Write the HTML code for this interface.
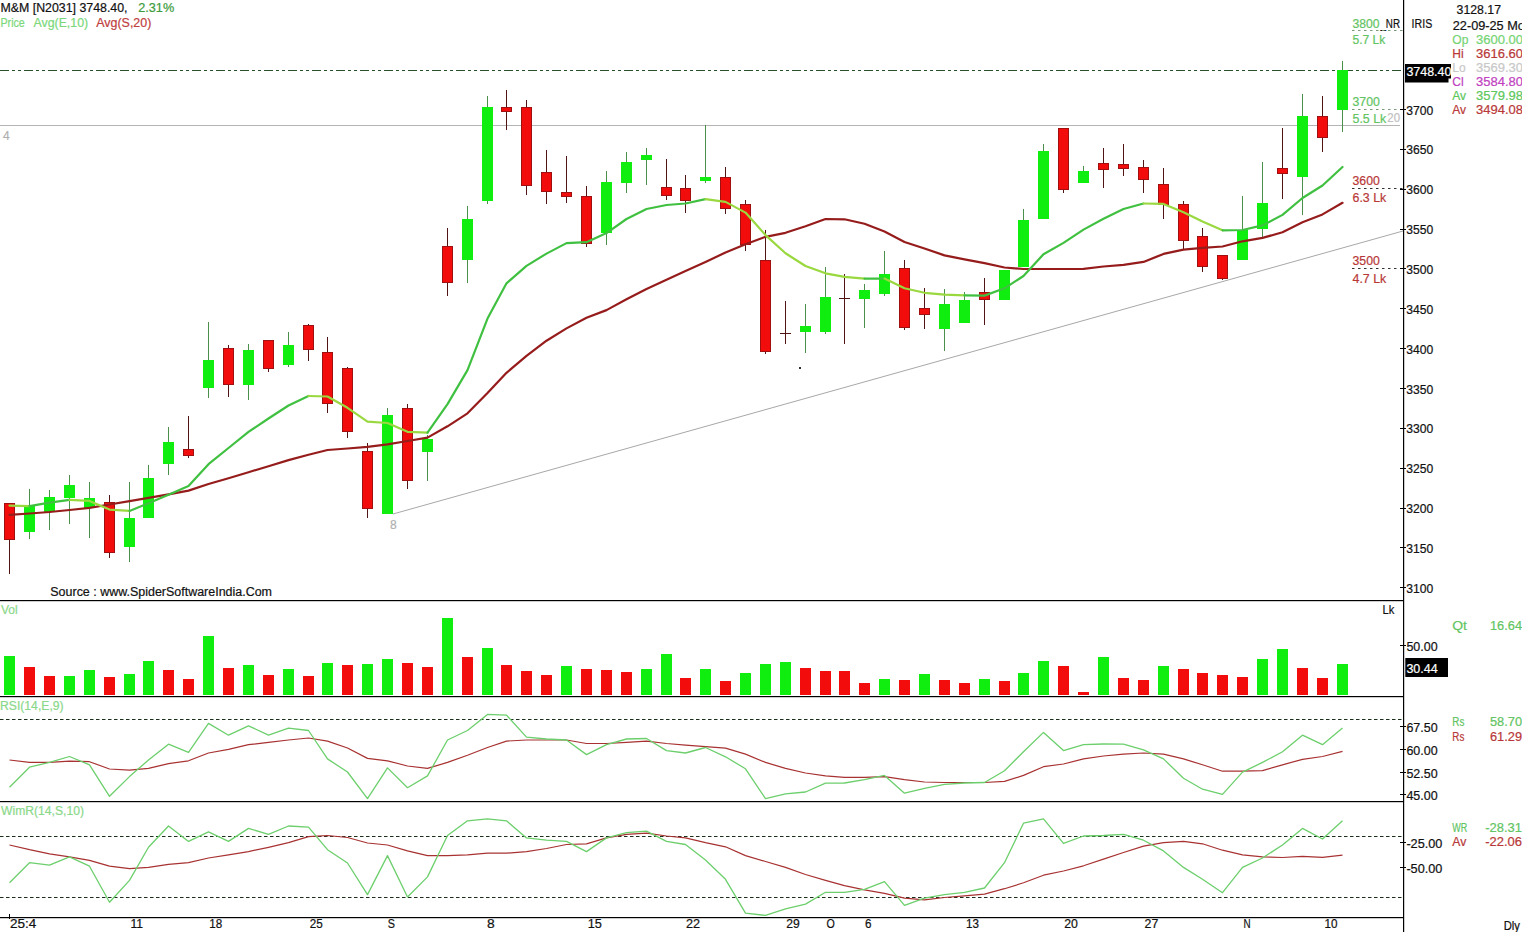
<!DOCTYPE html><html><head><meta charset="utf-8"><style>html,body{margin:0;padding:0;background:#fff;width:1522px;height:932px;overflow:hidden}svg{display:block}text{font-family:"Liberation Sans",sans-serif}</style></head><body><svg width="1522" height="932" viewBox="0 0 1522 932"><rect width="1522" height="932" fill="#fff"/><line x1="0" y1="70.5" x2="1403" y2="70.5" stroke="#2a522a" stroke-width="1.2" stroke-dasharray="9,3,3,3,3,3"/><line x1="0" y1="125.5" x2="1400" y2="125.5" stroke="#b4b4b4" stroke-width="1"/><line x1="393" y1="514" x2="1403" y2="231" stroke="#a8a8a8" stroke-width="1"/><rect x="9" y="503" width="1" height="71" fill="#501414"/><rect x="4" y="503" width="11" height="37" fill="#a01010"/><rect x="5" y="504" width="9" height="35" fill="#f20c0c"/><rect x="29" y="489" width="1" height="50" fill="#4a904a"/><rect x="24" y="505" width="11" height="27" fill="#10ee10"/><rect x="49" y="490" width="1" height="40" fill="#4a904a"/><rect x="44" y="497" width="11" height="15" fill="#10ee10"/><rect x="69" y="475" width="1" height="49" fill="#4a904a"/><rect x="64" y="485" width="11" height="13" fill="#10ee10"/><rect x="89" y="482" width="1" height="56" fill="#4a904a"/><rect x="84" y="498" width="11" height="10" fill="#10ee10"/><rect x="109" y="495" width="1" height="63" fill="#501414"/><rect x="104" y="502" width="11" height="51" fill="#a01010"/><rect x="105" y="503" width="9" height="49" fill="#f20c0c"/><rect x="129" y="482" width="1" height="80" fill="#4a904a"/><rect x="124" y="518" width="11" height="29" fill="#10ee10"/><rect x="148" y="465" width="1" height="53" fill="#4a904a"/><rect x="143" y="478" width="11" height="40" fill="#10ee10"/><rect x="168" y="427" width="1" height="48" fill="#4a904a"/><rect x="163" y="442" width="11" height="22" fill="#10ee10"/><rect x="188" y="416" width="1" height="42" fill="#501414"/><rect x="183" y="449" width="11" height="7" fill="#a01010"/><rect x="184" y="450" width="9" height="5" fill="#f20c0c"/><rect x="208" y="322" width="1" height="76" fill="#4a904a"/><rect x="203" y="360" width="11" height="28" fill="#10ee10"/><rect x="228" y="345" width="1" height="52" fill="#501414"/><rect x="223" y="348" width="11" height="37" fill="#a01010"/><rect x="224" y="349" width="9" height="35" fill="#f20c0c"/><rect x="248" y="344" width="1" height="56" fill="#4a904a"/><rect x="243" y="350" width="11" height="35" fill="#10ee10"/><rect x="268" y="340" width="1" height="32" fill="#501414"/><rect x="263" y="340" width="11" height="29" fill="#a01010"/><rect x="264" y="341" width="9" height="27" fill="#f20c0c"/><rect x="288" y="332" width="1" height="35" fill="#4a904a"/><rect x="283" y="345" width="11" height="20" fill="#10ee10"/><rect x="308" y="324" width="1" height="37" fill="#501414"/><rect x="303" y="325" width="11" height="25" fill="#a01010"/><rect x="304" y="326" width="9" height="23" fill="#f20c0c"/><rect x="327" y="337" width="1" height="76" fill="#501414"/><rect x="322" y="352" width="11" height="52" fill="#a01010"/><rect x="323" y="353" width="9" height="50" fill="#f20c0c"/><rect x="347" y="367" width="1" height="71" fill="#501414"/><rect x="342" y="368" width="11" height="64" fill="#a01010"/><rect x="343" y="369" width="9" height="62" fill="#f20c0c"/><rect x="367" y="443" width="1" height="75" fill="#501414"/><rect x="362" y="451" width="11" height="58" fill="#a01010"/><rect x="363" y="452" width="9" height="56" fill="#f20c0c"/><rect x="387" y="408" width="1" height="106" fill="#4a904a"/><rect x="382" y="415" width="11" height="99" fill="#10ee10"/><rect x="407" y="404" width="1" height="85" fill="#501414"/><rect x="402" y="408" width="11" height="73" fill="#a01010"/><rect x="403" y="409" width="9" height="71" fill="#f20c0c"/><rect x="427" y="435" width="1" height="46" fill="#4a904a"/><rect x="422" y="439" width="11" height="13" fill="#10ee10"/><rect x="447" y="228" width="1" height="68" fill="#501414"/><rect x="442" y="246" width="11" height="37" fill="#a01010"/><rect x="443" y="247" width="9" height="35" fill="#f20c0c"/><rect x="467" y="206" width="1" height="77" fill="#4a904a"/><rect x="462" y="219" width="11" height="41" fill="#10ee10"/><rect x="487" y="96" width="1" height="108" fill="#4a904a"/><rect x="482" y="107" width="11" height="94" fill="#10ee10"/><rect x="506" y="90" width="1" height="40" fill="#501414"/><rect x="501" y="107" width="11" height="5" fill="#a01010"/><rect x="502" y="108" width="9" height="3" fill="#f20c0c"/><rect x="526" y="100" width="1" height="95" fill="#501414"/><rect x="521" y="107" width="11" height="79" fill="#a01010"/><rect x="522" y="108" width="9" height="77" fill="#f20c0c"/><rect x="546" y="150" width="1" height="54" fill="#501414"/><rect x="541" y="172" width="11" height="20" fill="#a01010"/><rect x="542" y="173" width="9" height="18" fill="#f20c0c"/><rect x="566" y="156" width="1" height="47" fill="#501414"/><rect x="561" y="192" width="11" height="5" fill="#a01010"/><rect x="562" y="193" width="9" height="3" fill="#f20c0c"/><rect x="586" y="186" width="1" height="61" fill="#501414"/><rect x="581" y="196" width="11" height="48" fill="#a01010"/><rect x="582" y="197" width="9" height="46" fill="#f20c0c"/><rect x="606" y="171" width="1" height="74" fill="#4a904a"/><rect x="601" y="182" width="11" height="51" fill="#10ee10"/><rect x="626" y="152" width="1" height="41" fill="#4a904a"/><rect x="621" y="162" width="11" height="21" fill="#10ee10"/><rect x="646" y="148" width="1" height="37" fill="#4a904a"/><rect x="641" y="155" width="11" height="5" fill="#10ee10"/><rect x="666" y="159" width="1" height="41" fill="#501414"/><rect x="661" y="187" width="11" height="9" fill="#a01010"/><rect x="662" y="188" width="9" height="7" fill="#f20c0c"/><rect x="685" y="175" width="1" height="38" fill="#501414"/><rect x="680" y="188" width="11" height="13" fill="#a01010"/><rect x="681" y="189" width="9" height="11" fill="#f20c0c"/><rect x="705" y="125" width="1" height="58" fill="#4a904a"/><rect x="700" y="177" width="11" height="4" fill="#10ee10"/><rect x="725" y="167" width="1" height="47" fill="#501414"/><rect x="720" y="177" width="11" height="32" fill="#a01010"/><rect x="721" y="178" width="9" height="30" fill="#f20c0c"/><rect x="745" y="200" width="1" height="51" fill="#501414"/><rect x="740" y="204" width="11" height="41" fill="#a01010"/><rect x="741" y="205" width="9" height="39" fill="#f20c0c"/><rect x="765" y="230" width="1" height="124" fill="#501414"/><rect x="760" y="260" width="11" height="92" fill="#a01010"/><rect x="761" y="261" width="9" height="90" fill="#f20c0c"/><rect x="785" y="301" width="1" height="43" fill="#501414"/><rect x="780" y="333" width="11" height="1" fill="#501414"/><rect x="805" y="304" width="1" height="49" fill="#4a904a"/><rect x="800" y="326" width="11" height="6" fill="#10ee10"/><rect x="825" y="267" width="1" height="67" fill="#4a904a"/><rect x="820" y="297" width="11" height="35" fill="#10ee10"/><rect x="844" y="274" width="1" height="70" fill="#501414"/><rect x="839" y="298" width="11" height="1" fill="#501414"/><rect x="864" y="284" width="1" height="44" fill="#4a904a"/><rect x="859" y="290" width="11" height="9" fill="#10ee10"/><rect x="884" y="251" width="1" height="45" fill="#4a904a"/><rect x="879" y="274" width="11" height="20" fill="#10ee10"/><rect x="904" y="260" width="1" height="70" fill="#501414"/><rect x="899" y="268" width="11" height="60" fill="#a01010"/><rect x="900" y="269" width="9" height="58" fill="#f20c0c"/><rect x="924" y="288" width="1" height="41" fill="#501414"/><rect x="919" y="308" width="11" height="7" fill="#a01010"/><rect x="920" y="309" width="9" height="5" fill="#f20c0c"/><rect x="944" y="289" width="1" height="62" fill="#4a904a"/><rect x="939" y="304" width="11" height="25" fill="#10ee10"/><rect x="964" y="292" width="1" height="31" fill="#4a904a"/><rect x="959" y="300" width="11" height="23" fill="#10ee10"/><rect x="984" y="278" width="1" height="47" fill="#501414"/><rect x="979" y="292" width="11" height="8" fill="#a01010"/><rect x="980" y="293" width="9" height="6" fill="#f20c0c"/><rect x="1004" y="270" width="1" height="30" fill="#4a904a"/><rect x="999" y="270" width="11" height="30" fill="#10ee10"/><rect x="1023" y="209" width="1" height="58" fill="#4a904a"/><rect x="1018" y="220" width="11" height="47" fill="#10ee10"/><rect x="1043" y="144" width="1" height="75" fill="#4a904a"/><rect x="1038" y="151" width="11" height="68" fill="#10ee10"/><rect x="1063" y="128" width="1" height="65" fill="#501414"/><rect x="1058" y="128" width="11" height="62" fill="#a01010"/><rect x="1059" y="129" width="9" height="60" fill="#f20c0c"/><rect x="1083" y="166" width="1" height="17" fill="#4a904a"/><rect x="1078" y="171" width="11" height="12" fill="#10ee10"/><rect x="1103" y="148" width="1" height="40" fill="#501414"/><rect x="1098" y="163" width="11" height="7" fill="#a01010"/><rect x="1099" y="164" width="9" height="5" fill="#f20c0c"/><rect x="1123" y="144" width="1" height="32" fill="#501414"/><rect x="1118" y="164" width="11" height="5" fill="#a01010"/><rect x="1119" y="165" width="9" height="3" fill="#f20c0c"/><rect x="1143" y="160" width="1" height="33" fill="#501414"/><rect x="1138" y="167" width="11" height="13" fill="#a01010"/><rect x="1139" y="168" width="9" height="11" fill="#f20c0c"/><rect x="1163" y="168" width="1" height="51" fill="#501414"/><rect x="1158" y="184" width="11" height="21" fill="#a01010"/><rect x="1159" y="185" width="9" height="19" fill="#f20c0c"/><rect x="1183" y="201" width="1" height="49" fill="#501414"/><rect x="1178" y="204" width="11" height="37" fill="#a01010"/><rect x="1179" y="205" width="9" height="35" fill="#f20c0c"/><rect x="1202" y="228" width="1" height="44" fill="#501414"/><rect x="1197" y="236" width="11" height="31" fill="#a01010"/><rect x="1198" y="237" width="9" height="29" fill="#f20c0c"/><rect x="1222" y="255" width="1" height="25" fill="#501414"/><rect x="1217" y="255" width="11" height="24" fill="#a01010"/><rect x="1218" y="256" width="9" height="22" fill="#f20c0c"/><rect x="1242" y="196" width="1" height="64" fill="#4a904a"/><rect x="1237" y="230" width="11" height="30" fill="#10ee10"/><rect x="1262" y="162" width="1" height="77" fill="#4a904a"/><rect x="1257" y="203" width="11" height="26" fill="#10ee10"/><rect x="1282" y="128" width="1" height="71" fill="#501414"/><rect x="1277" y="168" width="11" height="6" fill="#a01010"/><rect x="1278" y="169" width="9" height="4" fill="#f20c0c"/><rect x="1302" y="94" width="1" height="121" fill="#4a904a"/><rect x="1297" y="116" width="11" height="61" fill="#10ee10"/><rect x="1322" y="96" width="1" height="56" fill="#501414"/><rect x="1317" y="116" width="11" height="22" fill="#a01010"/><rect x="1318" y="117" width="9" height="20" fill="#f20c0c"/><rect x="1342" y="61" width="1" height="71" fill="#4a904a"/><rect x="1337" y="70" width="11" height="40" fill="#10ee10"/><polyline points="9.5,514.8 29.5,513.5 49.5,512 69.5,510 89.5,507.8 109.5,504.5 129.5,501.1 148.5,497.9 168.5,494.4 188.5,490.6 208.5,484 228.5,478.2 248.5,472.2 268.5,466.2 288.5,460.1 308.5,454.7 327.5,450 347.5,448.5 367.5,446.8 387.5,444.4 407.5,441 427.5,437.6 447.5,426.3 467.5,413.3 487.5,393.1 506.5,372.8 526.5,355.8 546.5,340.7 566.5,328.4 586.5,317.7 606.5,310.1 626.5,299.3 646.5,289 666.5,279.7 685.5,271 705.5,262 725.5,252.5 745.5,244.2 765.5,236.8 785.5,232.8 805.5,226.2 825.5,219 844.5,219.3 864.5,223.8 884.5,231.5 904.5,242 924.5,248.5 944.5,255.4 964.5,259.3 984.5,263.2 1004.5,267.5 1023.5,269 1043.5,269 1063.5,269 1083.5,268.8 1103.5,266.5 1123.5,264.8 1143.5,261.9 1163.5,253.9 1183.5,249.6 1202.5,247.9 1222.5,246.5 1242.5,241.3 1262.5,237.9 1282.5,232.3 1302.5,222.2 1322.5,214.4 1342.5,202.8" fill="none" stroke="#961c1c" stroke-width="2.2" stroke-linecap="round" stroke-linejoin="round"/><polyline points="9.5,505.6 29.5,506.2" fill="none" stroke="#9ad840" stroke-width="2.2" stroke-linecap="round" stroke-linejoin="round"/><polyline points="29.5,506.2 49.5,502.6 69.5,499.8" fill="none" stroke="#40c040" stroke-width="2.2" stroke-linecap="round" stroke-linejoin="round"/><polyline points="69.5,499.8 89.5,500.9 109.5,509.6 129.5,510.9" fill="none" stroke="#9ad840" stroke-width="2.2" stroke-linecap="round" stroke-linejoin="round"/><polyline points="129.5,510.9 148.5,503.3 168.5,494.8 188.5,485.9 208.5,464.2 228.5,448 248.5,431.9 268.5,418.5 288.5,405.5 308.5,396" fill="none" stroke="#40c040" stroke-width="2.2" stroke-linecap="round" stroke-linejoin="round"/><polyline points="308.5,396 327.5,396.5 347.5,407.8 367.5,421.7 387.5,423 407.5,431.8 427.5,432.6" fill="none" stroke="#9ad840" stroke-width="2.2" stroke-linecap="round" stroke-linejoin="round"/><polyline points="427.5,432.6 447.5,404.1 467.5,370.1 487.5,318.6 506.5,283.3 526.5,265.9 546.5,253.6 566.5,243.1 586.5,242.2 606.5,233.1 626.5,219 646.5,209 666.5,205 685.5,203.5 705.5,199.1" fill="none" stroke="#40c040" stroke-width="2.2" stroke-linecap="round" stroke-linejoin="round"/><polyline points="705.5,199.1 725.5,201.9 745.5,212.6 765.5,235.1 785.5,253.2 805.5,266 825.5,273.3 844.5,276.9 864.5,278.6" fill="none" stroke="#9ad840" stroke-width="2.2" stroke-linecap="round" stroke-linejoin="round"/><polyline points="864.5,278.6 884.5,278.6" fill="none" stroke="#40c040" stroke-width="2.2" stroke-linecap="round" stroke-linejoin="round"/><polyline points="884.5,278.6 904.5,288.3 924.5,292.8 944.5,294.7 964.5,295.4" fill="none" stroke="#9ad840" stroke-width="2.2" stroke-linecap="round" stroke-linejoin="round"/><polyline points="964.5,295.4 984.5,295.6 1004.5,288.3 1023.5,276 1043.5,254.2 1063.5,242.9 1083.5,229.6 1103.5,218.8 1123.5,209 1143.5,203.5" fill="none" stroke="#40c040" stroke-width="2.2" stroke-linecap="round" stroke-linejoin="round"/><polyline points="1143.5,203.5 1163.5,203.9 1183.5,212.2 1202.5,221.6 1222.5,230.3" fill="none" stroke="#9ad840" stroke-width="2.2" stroke-linecap="round" stroke-linejoin="round"/><polyline points="1222.5,230.3 1242.5,230 1262.5,225.4 1282.5,214.9 1302.5,198 1322.5,185.5 1342.5,167" fill="none" stroke="#40c040" stroke-width="2.2" stroke-linecap="round" stroke-linejoin="round"/><rect x="799" y="367" width="2" height="2" fill="#333"/><text x="0.5" y="12.4" fill="#111" stroke="#111" stroke-width="0.2" font-size="12" text-anchor="start"  textLength="127" lengthAdjust="spacingAndGlyphs">M&amp;M [N2031] 3748.40,</text><text x="138.2" y="12.4" fill="#3c9c3c" stroke="#3c9c3c" stroke-width="0.2" font-size="12" text-anchor="start"  textLength="36" lengthAdjust="spacingAndGlyphs">2.31%</text><text x="0.5" y="27.2" fill="#7ad87a" stroke="#7ad87a" stroke-width="0.2" font-size="12" text-anchor="start"  textLength="24.3" lengthAdjust="spacingAndGlyphs">Price</text><text x="33.5" y="27.2" fill="#7ad87a" stroke="#7ad87a" stroke-width="0.2" font-size="12" text-anchor="start"  textLength="54.6" lengthAdjust="spacingAndGlyphs">Avg(E,10)</text><text x="96.3" y="27.2" fill="#c04040" stroke="#c04040" stroke-width="0.2" font-size="12" text-anchor="start"  textLength="55" lengthAdjust="spacingAndGlyphs">Avg(S,20)</text><text x="3" y="140" fill="#b0b0b0" stroke="#b0b0b0" stroke-width="0.2" font-size="12" text-anchor="start" >4</text><text x="390" y="529" fill="#b0b0b0" stroke="#b0b0b0" stroke-width="0.2" font-size="12" text-anchor="start" >8</text><text x="50.3" y="596" fill="#111" stroke="#111" stroke-width="0.2" font-size="12" text-anchor="start"  textLength="221.7" lengthAdjust="spacingAndGlyphs">Source : www.SpiderSoftwareIndia.Com</text><text x="1352.6" y="27.9" fill="#62c462" stroke="#62c462" stroke-width="0.2" font-size="12" text-anchor="start"  textLength="27" lengthAdjust="spacingAndGlyphs">3800</text><text x="1380.4" y="27.9" fill="#111" stroke="#111" stroke-width="0.2" font-size="12" text-anchor="start"  textLength="19.6" lengthAdjust="spacingAndGlyphs">_NR</text><line x1="1352" y1="30.5" x2="1403" y2="30.5" stroke="#7a9a7a" stroke-width="1" stroke-dasharray="2.5,3.5"/><text x="1352.6" y="44" fill="#62c462" stroke="#62c462" stroke-width="0.2" font-size="12" text-anchor="start"  textLength="32.7" lengthAdjust="spacingAndGlyphs">5.7 Lk</text><text x="1352.5" y="106.2" fill="#62c462" stroke="#62c462" stroke-width="0.2" font-size="12" text-anchor="start"  textLength="27.3" lengthAdjust="spacingAndGlyphs">3700</text><line x1="1352" y1="109.5" x2="1403" y2="109.5" stroke="#7a9a7a" stroke-width="1" stroke-dasharray="2.5,3.5"/><text x="1352.5" y="123" fill="#62c462" stroke="#62c462" stroke-width="0.2" font-size="12" text-anchor="start"  textLength="33.7" lengthAdjust="spacingAndGlyphs">5.5 Lk</text><text x="1387.3" y="121.9" fill="#c0c0c0" stroke="#c0c0c0" stroke-width="0.2" font-size="12" text-anchor="start"  textLength="12.7" lengthAdjust="spacingAndGlyphs">20</text><text x="1352.5" y="185.2" fill="#b83838" stroke="#b83838" stroke-width="0.2" font-size="12" text-anchor="start"  textLength="27.3" lengthAdjust="spacingAndGlyphs">3600</text><line x1="1352" y1="188.5" x2="1403" y2="188.5" stroke="#333" stroke-width="1" stroke-dasharray="2.5,3.5"/><text x="1352.5" y="202.4" fill="#b83838" stroke="#b83838" stroke-width="0.2" font-size="12" text-anchor="start"  textLength="33.7" lengthAdjust="spacingAndGlyphs">6.3 Lk</text><text x="1352.5" y="265.4" fill="#b83838" stroke="#b83838" stroke-width="0.2" font-size="12" text-anchor="start"  textLength="27.3" lengthAdjust="spacingAndGlyphs">3500</text><line x1="1352" y1="268.5" x2="1403" y2="268.5" stroke="#333" stroke-width="1" stroke-dasharray="2.5,3.5"/><text x="1352.5" y="282.5" fill="#b83838" stroke="#b83838" stroke-width="0.2" font-size="12" text-anchor="start"  textLength="33.7" lengthAdjust="spacingAndGlyphs">4.7 Lk</text><rect x="1403" y="0" width="1.2" height="932" fill="#000"/><rect x="1400" y="109" width="6" height="1" fill="#000"/><text x="1406.2" y="114.5" fill="#111" stroke="#111" stroke-width="0.2" font-size="12" text-anchor="start"  textLength="27" lengthAdjust="spacingAndGlyphs">3700</text><rect x="1400" y="149" width="6" height="1" fill="#000"/><text x="1406.2" y="154.4" fill="#111" stroke="#111" stroke-width="0.2" font-size="12" text-anchor="start"  textLength="27" lengthAdjust="spacingAndGlyphs">3650</text><rect x="1400" y="189" width="6" height="1" fill="#000"/><text x="1406.2" y="194.2" fill="#111" stroke="#111" stroke-width="0.2" font-size="12" text-anchor="start"  textLength="27" lengthAdjust="spacingAndGlyphs">3600</text><rect x="1400" y="229" width="6" height="1" fill="#000"/><text x="1406.2" y="234.1" fill="#111" stroke="#111" stroke-width="0.2" font-size="12" text-anchor="start"  textLength="27" lengthAdjust="spacingAndGlyphs">3550</text><rect x="1400" y="268" width="6" height="1" fill="#000"/><text x="1406.2" y="273.9" fill="#111" stroke="#111" stroke-width="0.2" font-size="12" text-anchor="start"  textLength="27" lengthAdjust="spacingAndGlyphs">3500</text><rect x="1400" y="308" width="6" height="1" fill="#000"/><text x="1406.2" y="313.8" fill="#111" stroke="#111" stroke-width="0.2" font-size="12" text-anchor="start"  textLength="27" lengthAdjust="spacingAndGlyphs">3450</text><rect x="1400" y="348" width="6" height="1" fill="#000"/><text x="1406.2" y="353.7" fill="#111" stroke="#111" stroke-width="0.2" font-size="12" text-anchor="start"  textLength="27" lengthAdjust="spacingAndGlyphs">3400</text><rect x="1400" y="388" width="6" height="1" fill="#000"/><text x="1406.2" y="393.5" fill="#111" stroke="#111" stroke-width="0.2" font-size="12" text-anchor="start"  textLength="27" lengthAdjust="spacingAndGlyphs">3350</text><rect x="1400" y="428" width="6" height="1" fill="#000"/><text x="1406.2" y="433.4" fill="#111" stroke="#111" stroke-width="0.2" font-size="12" text-anchor="start"  textLength="27" lengthAdjust="spacingAndGlyphs">3300</text><rect x="1400" y="468" width="6" height="1" fill="#000"/><text x="1406.2" y="473.2" fill="#111" stroke="#111" stroke-width="0.2" font-size="12" text-anchor="start"  textLength="27" lengthAdjust="spacingAndGlyphs">3250</text><rect x="1400" y="508" width="6" height="1" fill="#000"/><text x="1406.2" y="513.1" fill="#111" stroke="#111" stroke-width="0.2" font-size="12" text-anchor="start"  textLength="27" lengthAdjust="spacingAndGlyphs">3200</text><rect x="1400" y="547" width="6" height="1" fill="#000"/><text x="1406.2" y="553" fill="#111" stroke="#111" stroke-width="0.2" font-size="12" text-anchor="start"  textLength="27" lengthAdjust="spacingAndGlyphs">3150</text><rect x="1400" y="587" width="6" height="1" fill="#000"/><text x="1406.2" y="592.8" fill="#111" stroke="#111" stroke-width="0.2" font-size="12" text-anchor="start"  textLength="27" lengthAdjust="spacingAndGlyphs">3100</text><text x="1411.6" y="27.7" fill="#111" stroke="#111" stroke-width="0.2" font-size="12" text-anchor="start"  textLength="20.6" lengthAdjust="spacingAndGlyphs">IRIS</text><rect x="1405" y="64" width="46" height="14.5" fill="#000"/><rect x="1405" y="78" width="43.5" height="4.5" fill="#000"/><text x="1406.4" y="75.8" fill="#fff" stroke="#fff" stroke-width="0.2" font-size="12" text-anchor="start"  textLength="45" lengthAdjust="spacingAndGlyphs">3748.40</text><text x="1456.6" y="13.9" fill="#111" stroke="#111" stroke-width="0.2" font-size="12" text-anchor="start"  textLength="44.4" lengthAdjust="spacingAndGlyphs">3128.17</text><text x="1452.8" y="29.9" fill="#111" stroke="#111" stroke-width="0.2" font-size="12" text-anchor="start"  textLength="72" lengthAdjust="spacingAndGlyphs">22-09-25 Mo</text><text x="1452.3" y="43.8" fill="#74d474" stroke="#74d474" stroke-width="0.2" font-size="12" text-anchor="start" >Op</text><text x="1476" y="43.8" fill="#74d474" stroke="#74d474" stroke-width="0.2" font-size="12" text-anchor="start"  textLength="47" lengthAdjust="spacingAndGlyphs">3600.00</text><text x="1452.3" y="57.8" fill="#b83838" stroke="#b83838" stroke-width="0.2" font-size="12" text-anchor="start" >Hi</text><text x="1476" y="57.8" fill="#b83838" stroke="#b83838" stroke-width="0.2" font-size="12" text-anchor="start"  textLength="47" lengthAdjust="spacingAndGlyphs">3616.60</text><text x="1452.3" y="71.8" fill="#c8c8c8" stroke="#c8c8c8" stroke-width="0.2" font-size="12" text-anchor="start" >Lo</text><text x="1476" y="71.8" fill="#c8c8c8" stroke="#c8c8c8" stroke-width="0.2" font-size="12" text-anchor="start"  textLength="47" lengthAdjust="spacingAndGlyphs">3569.30</text><text x="1452.3" y="85.9" fill="#c040c0" stroke="#c040c0" stroke-width="0.2" font-size="12" text-anchor="start" >Cl</text><text x="1476" y="85.9" fill="#c040c0" stroke="#c040c0" stroke-width="0.2" font-size="12" text-anchor="start"  textLength="47" lengthAdjust="spacingAndGlyphs">3584.80</text><text x="1452.3" y="99.9" fill="#5cc85c" stroke="#5cc85c" stroke-width="0.2" font-size="12" text-anchor="start" >Av</text><text x="1476" y="99.9" fill="#5cc85c" stroke="#5cc85c" stroke-width="0.2" font-size="12" text-anchor="start"  textLength="47" lengthAdjust="spacingAndGlyphs">3579.98</text><text x="1452.3" y="113.9" fill="#b83838" stroke="#b83838" stroke-width="0.2" font-size="12" text-anchor="start" >Av</text><text x="1476" y="113.9" fill="#b83838" stroke="#b83838" stroke-width="0.2" font-size="12" text-anchor="start"  textLength="47" lengthAdjust="spacingAndGlyphs">3494.08</text><rect x="0" y="600.0" width="1403" height="1.2" fill="#000"/><rect x="0" y="696.0" width="1403" height="1.2" fill="#000"/><rect x="0" y="801.0" width="1403" height="1.2" fill="#000"/><rect x="0" y="917.0" width="1403" height="1.2" fill="#000"/><text x="1" y="614.4" fill="#8ad88a" stroke="#8ad88a" stroke-width="0.2" font-size="12" text-anchor="start"  textLength="16.7" lengthAdjust="spacingAndGlyphs">Vol</text><text x="1382.6" y="613.9" fill="#111" stroke="#111" stroke-width="0.2" font-size="12" text-anchor="start"  textLength="11.8" lengthAdjust="spacingAndGlyphs">Lk</text><rect x="4" y="656" width="11" height="39" fill="#10ee10"/><rect x="24" y="667" width="11" height="28" fill="#f20c0c"/><rect x="44" y="676" width="11" height="19" fill="#f20c0c"/><rect x="64" y="676" width="11" height="19" fill="#10ee10"/><rect x="84" y="670" width="11" height="25" fill="#10ee10"/><rect x="104" y="677" width="11" height="18" fill="#f20c0c"/><rect x="124" y="674" width="11" height="21" fill="#10ee10"/><rect x="143" y="661" width="11" height="34" fill="#10ee10"/><rect x="163" y="670" width="11" height="25" fill="#f20c0c"/><rect x="183" y="679" width="11" height="16" fill="#f20c0c"/><rect x="203" y="636" width="11" height="59" fill="#10ee10"/><rect x="223" y="668" width="11" height="27" fill="#f20c0c"/><rect x="243" y="665" width="11" height="30" fill="#10ee10"/><rect x="263" y="675" width="11" height="20" fill="#f20c0c"/><rect x="283" y="669" width="11" height="26" fill="#10ee10"/><rect x="303" y="676" width="11" height="19" fill="#f20c0c"/><rect x="322" y="663" width="11" height="32" fill="#10ee10"/><rect x="342" y="665" width="11" height="30" fill="#f20c0c"/><rect x="362" y="664" width="11" height="31" fill="#10ee10"/><rect x="382" y="659" width="11" height="36" fill="#10ee10"/><rect x="402" y="663" width="11" height="32" fill="#f20c0c"/><rect x="422" y="667" width="11" height="28" fill="#f20c0c"/><rect x="442" y="618" width="11" height="77" fill="#10ee10"/><rect x="462" y="657" width="11" height="38" fill="#f20c0c"/><rect x="482" y="648" width="11" height="47" fill="#10ee10"/><rect x="501" y="665" width="11" height="30" fill="#f20c0c"/><rect x="521" y="671" width="11" height="24" fill="#f20c0c"/><rect x="541" y="675" width="11" height="20" fill="#f20c0c"/><rect x="561" y="666" width="11" height="29" fill="#10ee10"/><rect x="581" y="669" width="11" height="26" fill="#f20c0c"/><rect x="601" y="670" width="11" height="25" fill="#f20c0c"/><rect x="621" y="672" width="11" height="23" fill="#f20c0c"/><rect x="641" y="669" width="11" height="26" fill="#10ee10"/><rect x="661" y="654" width="11" height="41" fill="#10ee10"/><rect x="680" y="678" width="11" height="17" fill="#f20c0c"/><rect x="700" y="669" width="11" height="26" fill="#10ee10"/><rect x="720" y="681" width="11" height="14" fill="#f20c0c"/><rect x="740" y="673" width="11" height="22" fill="#10ee10"/><rect x="760" y="664" width="11" height="31" fill="#10ee10"/><rect x="780" y="662" width="11" height="33" fill="#10ee10"/><rect x="800" y="668" width="11" height="27" fill="#f20c0c"/><rect x="820" y="671" width="11" height="24" fill="#f20c0c"/><rect x="839" y="671" width="11" height="24" fill="#f20c0c"/><rect x="859" y="683" width="11" height="12" fill="#f20c0c"/><rect x="879" y="679" width="11" height="16" fill="#10ee10"/><rect x="899" y="680" width="11" height="15" fill="#f20c0c"/><rect x="919" y="674" width="11" height="21" fill="#10ee10"/><rect x="939" y="680" width="11" height="15" fill="#f20c0c"/><rect x="959" y="683" width="11" height="12" fill="#f20c0c"/><rect x="979" y="679" width="11" height="16" fill="#10ee10"/><rect x="999" y="681" width="11" height="14" fill="#f20c0c"/><rect x="1018" y="673" width="11" height="22" fill="#10ee10"/><rect x="1038" y="661" width="11" height="34" fill="#10ee10"/><rect x="1058" y="666" width="11" height="29" fill="#f20c0c"/><rect x="1078" y="692" width="11" height="3" fill="#f20c0c"/><rect x="1098" y="657" width="11" height="38" fill="#10ee10"/><rect x="1118" y="678" width="11" height="17" fill="#f20c0c"/><rect x="1138" y="680" width="11" height="15" fill="#f20c0c"/><rect x="1158" y="666" width="11" height="29" fill="#10ee10"/><rect x="1178" y="669" width="11" height="26" fill="#f20c0c"/><rect x="1197" y="673" width="11" height="22" fill="#f20c0c"/><rect x="1217" y="675" width="11" height="20" fill="#f20c0c"/><rect x="1237" y="677" width="11" height="18" fill="#f20c0c"/><rect x="1257" y="659" width="11" height="36" fill="#10ee10"/><rect x="1277" y="649" width="11" height="46" fill="#10ee10"/><rect x="1297" y="668" width="11" height="27" fill="#f20c0c"/><rect x="1317" y="678" width="11" height="17" fill="#f20c0c"/><rect x="1337" y="664" width="11" height="31" fill="#10ee10"/><rect x="1400" y="645" width="6" height="1" fill="#000"/><text x="1406.4" y="650.5" fill="#111" stroke="#111" stroke-width="0.2" font-size="12" text-anchor="start"  textLength="31.2" lengthAdjust="spacingAndGlyphs">50.00</text><rect x="1405.3" y="658" width="42.7" height="19" fill="#000"/><text x="1406.4" y="672.5" fill="#fff" stroke="#fff" stroke-width="0.2" font-size="12" text-anchor="start"  textLength="31.2" lengthAdjust="spacingAndGlyphs">30.44</text><text x="1452.3" y="630.4" fill="#62c462" stroke="#62c462" stroke-width="0.2" font-size="12" text-anchor="start"  textLength="14.7" lengthAdjust="spacingAndGlyphs">Qt</text><text x="1490" y="630.4" fill="#62c462" stroke="#62c462" stroke-width="0.2" font-size="12" text-anchor="start"  textLength="32" lengthAdjust="spacingAndGlyphs">16.64</text><text x="0" y="710" fill="#8ad88a" stroke="#8ad88a" stroke-width="0.2" font-size="12" text-anchor="start"  textLength="63.6" lengthAdjust="spacingAndGlyphs">RSI(14,E,9)</text><line x1="0" y1="719.5" x2="1403" y2="719.5" stroke="#1a2e1a" stroke-width="1.2" stroke-dasharray="3.5,2.5"/><rect x="1400" y="726" width="6" height="1" fill="#000"/><text x="1406.4" y="732.2" fill="#111" stroke="#111" stroke-width="0.2" font-size="12" text-anchor="start"  textLength="31.2" lengthAdjust="spacingAndGlyphs">67.50</text><rect x="1400" y="749" width="6" height="1" fill="#000"/><text x="1406.4" y="755.2" fill="#111" stroke="#111" stroke-width="0.2" font-size="12" text-anchor="start"  textLength="31.2" lengthAdjust="spacingAndGlyphs">60.00</text><rect x="1400" y="772" width="6" height="1" fill="#000"/><text x="1406.4" y="778.2" fill="#111" stroke="#111" stroke-width="0.2" font-size="12" text-anchor="start"  textLength="31.2" lengthAdjust="spacingAndGlyphs">52.50</text><rect x="1400" y="794" width="6" height="1" fill="#000"/><text x="1406.4" y="800.2" fill="#111" stroke="#111" stroke-width="0.2" font-size="12" text-anchor="start"  textLength="31.2" lengthAdjust="spacingAndGlyphs">45.00</text><polyline points="9.5,760 29.5,762.4 49.5,762.4 69.5,761.2 89.5,761.7 109.5,769 129.5,770.2 148.5,768.3 168.5,763.6 188.5,760.8 208.5,753 228.5,749.4 248.5,744.7 268.5,742.3 288.5,740 308.5,738 327.5,741.1 347.5,748 367.5,758.4 387.5,760.8 407.5,766 427.5,768.3 447.5,762.4 467.5,755.3 487.5,747.5 506.5,741.1 526.5,740 546.5,740 566.5,740 586.5,743.5 606.5,743.5 626.5,742.3 646.5,741.1 666.5,743.5 685.5,745.2 705.5,746.6 725.5,748.2 745.5,754.1 765.5,762.4 785.5,768.3 805.5,773 825.5,775.9 844.5,777.3 864.5,777.3 884.5,776.6 904.5,779.7 924.5,782 944.5,782.5 964.5,782.5 984.5,782.5 1004.5,781.4 1023.5,775.4 1043.5,766.7 1063.5,764 1083.5,758.9 1103.5,756 1123.5,754.1 1143.5,753 1163.5,754.1 1183.5,758.9 1202.5,764.8 1222.5,771.2 1242.5,771.2 1262.5,770.7 1282.5,764.8 1302.5,759.3 1322.5,756.5 1342.5,751.3" fill="none" stroke="#a83232" stroke-width="1.2" stroke-linejoin="round"/><polyline points="9.5,787.3 29.5,767.2 49.5,762.4 69.5,756.5 89.5,764.8 109.5,796.3 129.5,776.6 148.5,760 168.5,744.2 188.5,752.3 208.5,723.4 228.5,735.2 248.5,725.8 268.5,735.2 288.5,728.1 308.5,730.5 327.5,758.9 347.5,772 367.5,798.6 387.5,767.9 407.5,787.7 427.5,775.9 447.5,740 467.5,730.5 487.5,714.4 506.5,715.1 526.5,737.1 546.5,739 566.5,740 586.5,754.6 606.5,744.7 626.5,739 646.5,738.5 666.5,750.6 685.5,753 705.5,747.5 725.5,756.8 745.5,768.8 765.5,798.6 785.5,793.9 805.5,792 825.5,783.2 844.5,783 864.5,779.7 884.5,775.4 904.5,793.2 924.5,788.4 944.5,784.4 964.5,783 984.5,782.5 1004.5,770.7 1023.5,751.8 1043.5,732.4 1063.5,750.6 1083.5,744.7 1103.5,744 1123.5,744.2 1143.5,749.9 1163.5,758.9 1183.5,778.3 1202.5,789.2 1222.5,794.4 1242.5,772.1 1262.5,762.4 1282.5,751.8 1302.5,735.2 1322.5,744.7 1342.5,728.1" fill="none" stroke="#6ccf6c" stroke-width="1.3" stroke-linejoin="round"/><text x="1452.3" y="725.8" fill="#62c462" stroke="#62c462" stroke-width="0.2" font-size="12" text-anchor="start"  textLength="12" lengthAdjust="spacingAndGlyphs">Rs</text><text x="1490" y="725.8" fill="#62c462" stroke="#62c462" stroke-width="0.2" font-size="12" text-anchor="start"  textLength="32" lengthAdjust="spacingAndGlyphs">58.70</text><text x="1452.3" y="740.5" fill="#b83838" stroke="#b83838" stroke-width="0.2" font-size="12" text-anchor="start"  textLength="12" lengthAdjust="spacingAndGlyphs">Rs</text><text x="1490" y="740.5" fill="#b83838" stroke="#b83838" stroke-width="0.2" font-size="12" text-anchor="start"  textLength="32" lengthAdjust="spacingAndGlyphs">61.29</text><text x="1" y="814.8" fill="#8ad88a" stroke="#8ad88a" stroke-width="0.2" font-size="12" text-anchor="start"  textLength="83" lengthAdjust="spacingAndGlyphs">WimR(14,S,10)</text><line x1="0" y1="836.5" x2="1403" y2="836.5" stroke="#1a2e1a" stroke-width="1.2" stroke-dasharray="3.5,2.5"/><line x1="0" y1="897.5" x2="1403" y2="897.5" stroke="#1a2e1a" stroke-width="1.2" stroke-dasharray="3.5,2.5"/><rect x="1400" y="842" width="6" height="1" fill="#000"/><text x="1406.4" y="847.5" fill="#111" stroke="#111" stroke-width="0.2" font-size="12" text-anchor="start"  textLength="36" lengthAdjust="spacingAndGlyphs">-25.00</text><rect x="1400" y="867" width="6" height="1" fill="#000"/><text x="1406.4" y="872.5" fill="#111" stroke="#111" stroke-width="0.2" font-size="12" text-anchor="start"  textLength="36" lengthAdjust="spacingAndGlyphs">-50.00</text><polyline points="9.5,845 29.5,849.7 49.5,853.9 69.5,856.8 89.5,860.3 109.5,866.2 129.5,868.6 148.5,867.4 168.5,864.3 188.5,862.7 208.5,858 228.5,854.9 248.5,851.6 268.5,847.3 288.5,842.6 308.5,836.7 327.5,835.5 347.5,837.5 367.5,843 387.5,845 407.5,850.9 427.5,855.6 447.5,855.6 467.5,854.9 487.5,853.2 506.5,853.2 526.5,851.6 546.5,848.5 566.5,844.5 586.5,843.8 606.5,837.9 626.5,834.3 646.5,833.1 666.5,836 685.5,837.9 705.5,842.6 725.5,846.8 745.5,855.6 765.5,861.5 785.5,867.4 805.5,874.5 825.5,880.4 844.5,885.6 864.5,889.9 884.5,893.4 904.5,898.2 924.5,899.8 944.5,897.5 964.5,895.8 984.5,894.2 1004.5,888.7 1023.5,882.8 1043.5,875.2 1063.5,871 1083.5,865.8 1103.5,859.1 1123.5,852.5 1143.5,846.1 1163.5,842.6 1183.5,841.4 1202.5,843.8 1222.5,850.2 1242.5,854.9 1262.5,856.8 1282.5,857.5 1302.5,856.3 1322.5,857.3 1342.5,855.1" fill="none" stroke="#a83232" stroke-width="1.2" stroke-linejoin="round"/><polyline points="9.5,882.8 29.5,862.7 49.5,865.1 69.5,856.8 89.5,866.2 109.5,902.2 129.5,880.4 148.5,847.3 168.5,826 188.5,841.4 208.5,831.9 228.5,841.4 248.5,828.4 268.5,834.3 288.5,826 308.5,827.2 327.5,849.7 347.5,863 367.5,894.6 387.5,855.6 407.5,897 427.5,876.9 447.5,835.5 467.5,820.8 487.5,818.9 506.5,820.8 526.5,837.9 546.5,840.2 566.5,841.4 586.5,851.6 606.5,837.9 626.5,832.6 646.5,831.2 666.5,841.4 685.5,844.5 705.5,860 725.5,879.3 745.5,913.1 765.5,915.4 785.5,908.8 805.5,904.1 825.5,892.3 844.5,892.3 864.5,889.4 884.5,881.6 904.5,905.3 924.5,898.2 944.5,894.6 964.5,892.3 984.5,888 1004.5,862.7 1023.5,823.2 1043.5,818.9 1063.5,843.3 1083.5,836 1103.5,835.5 1123.5,834.3 1143.5,840.2 1163.5,850.9 1183.5,867.4 1202.5,879.3 1222.5,892.7 1242.5,867.4 1262.5,858 1282.5,845 1302.5,828.4 1322.5,839 1342.5,820.8" fill="none" stroke="#6ccf6c" stroke-width="1.3" stroke-linejoin="round"/><text x="1452.3" y="831.5" fill="#62c462" stroke="#62c462" stroke-width="0.2" font-size="12" text-anchor="start"  textLength="15" lengthAdjust="spacingAndGlyphs">WR</text><text x="1485.3" y="831.5" fill="#62c462" stroke="#62c462" stroke-width="0.2" font-size="12" text-anchor="start"  textLength="36.7" lengthAdjust="spacingAndGlyphs">-28.31</text><text x="1452.3" y="846" fill="#b83838" stroke="#b83838" stroke-width="0.2" font-size="12" text-anchor="start"  textLength="14" lengthAdjust="spacingAndGlyphs">Av</text><text x="1485.3" y="846" fill="#b83838" stroke="#b83838" stroke-width="0.2" font-size="12" text-anchor="start"  textLength="36.7" lengthAdjust="spacingAndGlyphs">-22.06</text><text x="10" y="927.6" fill="#111" stroke="#111" stroke-width="0.2" font-size="12" text-anchor="start"  textLength="26.3" lengthAdjust="spacingAndGlyphs">25:4</text><text x="130.4" y="927.6" fill="#111" stroke="#111" stroke-width="0.2" font-size="12" text-anchor="start"  textLength="12.6" lengthAdjust="spacingAndGlyphs">11</text><text x="209.3" y="927.6" fill="#111" stroke="#111" stroke-width="0.2" font-size="12" text-anchor="start"  textLength="13" lengthAdjust="spacingAndGlyphs">18</text><text x="309.8" y="927.6" fill="#111" stroke="#111" stroke-width="0.2" font-size="12" text-anchor="start"  textLength="13" lengthAdjust="spacingAndGlyphs">25</text><text x="387.8" y="927.6" fill="#111" stroke="#111" stroke-width="0.2" font-size="12" text-anchor="start"  textLength="7.2" lengthAdjust="spacingAndGlyphs">S</text><text x="487" y="927.6" fill="#111" stroke="#111" stroke-width="0.2" font-size="12" text-anchor="start"  textLength="7.7" lengthAdjust="spacingAndGlyphs">8</text><text x="587.7" y="927.6" fill="#111" stroke="#111" stroke-width="0.2" font-size="12" text-anchor="start"  textLength="14.2" lengthAdjust="spacingAndGlyphs">15</text><text x="685.9" y="927.6" fill="#111" stroke="#111" stroke-width="0.2" font-size="12" text-anchor="start"  textLength="14.1" lengthAdjust="spacingAndGlyphs">22</text><text x="786.3" y="927.6" fill="#111" stroke="#111" stroke-width="0.2" font-size="12" text-anchor="start"  textLength="13.5" lengthAdjust="spacingAndGlyphs">29</text><text x="826.5" y="927.6" fill="#111" stroke="#111" stroke-width="0.2" font-size="12" text-anchor="start"  textLength="8.3" lengthAdjust="spacingAndGlyphs">O</text><text x="865" y="927.6" fill="#111" stroke="#111" stroke-width="0.2" font-size="12" text-anchor="start"  textLength="6.5" lengthAdjust="spacingAndGlyphs">6</text><text x="966" y="927.6" fill="#111" stroke="#111" stroke-width="0.2" font-size="12" text-anchor="start"  textLength="13" lengthAdjust="spacingAndGlyphs">13</text><text x="1064.2" y="927.6" fill="#111" stroke="#111" stroke-width="0.2" font-size="12" text-anchor="start"  textLength="13.7" lengthAdjust="spacingAndGlyphs">20</text><text x="1144.6" y="927.6" fill="#111" stroke="#111" stroke-width="0.2" font-size="12" text-anchor="start"  textLength="13.7" lengthAdjust="spacingAndGlyphs">27</text><text x="1243.5" y="927.6" fill="#111" stroke="#111" stroke-width="0.2" font-size="12" text-anchor="start"  textLength="7.1" lengthAdjust="spacingAndGlyphs">N</text><text x="1324.4" y="927.6" fill="#111" stroke="#111" stroke-width="0.2" font-size="12" text-anchor="start"  textLength="13" lengthAdjust="spacingAndGlyphs">10</text><line x1="9.5" y1="914" x2="9.5" y2="919" stroke="#000"/><text x="1503.7" y="930" fill="#111" stroke="#111" stroke-width="0.2" font-size="12" text-anchor="start"  textLength="16.3" lengthAdjust="spacingAndGlyphs">Dly</text></svg></body></html>
